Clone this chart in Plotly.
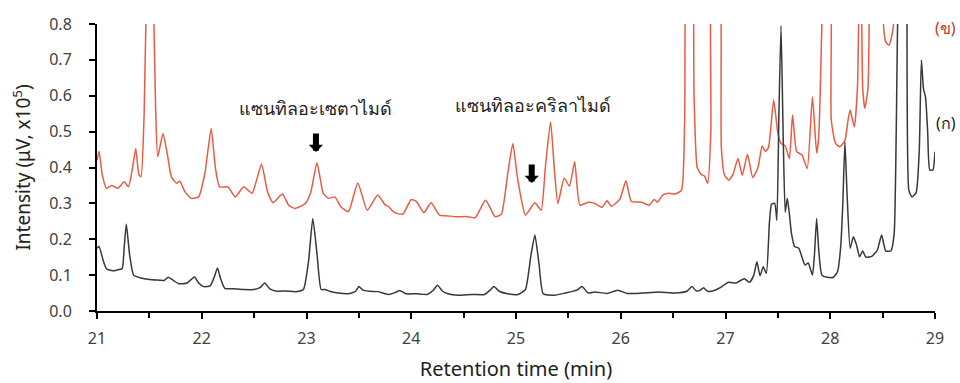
import plotly.graph_objects as go

# Trace (ก) - black
time_a = [21.00, 21.02, 21.06, 21.09, 21.15, 21.20, 21.24, 21.26, 21.28, 21.31, 21.35, 21.42, 21.50, 21.60,
          21.64, 21.68, 21.73, 21.78, 21.86, 21.93, 21.97, 22.02, 22.08, 22.12, 22.15, 22.18, 22.22, 22.30,
          22.40, 22.50, 22.56, 22.60, 22.65, 22.72, 22.80, 22.90, 22.97, 23.02, 23.06, 23.10, 23.14, 23.18,
          23.22, 23.30, 23.40, 23.47, 23.50, 23.54, 23.60, 23.68, 23.78, 23.85, 23.89, 23.95, 24.05, 24.15,
          24.21, 24.25, 24.30, 24.35, 24.45, 24.58, 24.70, 24.76, 24.79, 24.84, 24.92, 25.02, 25.09, 25.14,
          25.18, 25.22, 25.26, 25.37, 25.47, 25.58, 25.63, 25.69, 25.75, 25.87, 25.97, 26.06, 26.20, 26.36,
          26.52, 26.63, 26.68, 26.72, 26.76, 26.79, 26.83, 26.90, 26.95, 27.03, 27.10, 27.18, 27.23, 27.27,
          27.30, 27.33, 27.36, 27.39, 27.42, 27.44, 27.47, 27.49, 27.51, 27.53, 27.55, 27.57, 27.59, 27.61,
          27.63, 27.66, 27.70, 27.73, 27.76, 27.79, 27.83, 27.85, 27.87, 27.89, 27.92, 27.97, 28.03, 28.07,
          28.10, 28.12, 28.14, 28.16, 28.19, 28.22, 28.25, 28.28, 28.31, 28.34, 28.40, 28.45, 28.49, 28.53,
          28.58, 28.61, 28.63, 28.65, 28.70, 28.73, 28.75, 28.78, 28.82, 28.85, 28.87, 28.89, 28.91, 28.93,
          28.95, 28.98, 29.00]
intensity_a = [0.175, 0.180, 0.140, 0.118, 0.112, 0.115, 0.118, 0.180, 0.242, 0.160, 0.100, 0.092, 0.088, 0.086,
               0.085, 0.094, 0.085, 0.076, 0.078, 0.095, 0.078, 0.068, 0.070, 0.095, 0.120, 0.090, 0.063, 0.062,
               0.060, 0.060, 0.066, 0.078, 0.062, 0.055, 0.056, 0.054, 0.060, 0.140, 0.258, 0.160, 0.060, 0.060,
               0.055, 0.050, 0.048, 0.055, 0.068, 0.058, 0.055, 0.054, 0.046, 0.052, 0.057, 0.048, 0.048, 0.046,
               0.058, 0.072, 0.055, 0.048, 0.044, 0.046, 0.046, 0.060, 0.068, 0.055, 0.048, 0.046, 0.060, 0.150,
               0.212, 0.130, 0.048, 0.044, 0.050, 0.058, 0.068, 0.050, 0.053, 0.049, 0.058, 0.049, 0.050, 0.053,
               0.050, 0.055, 0.068, 0.056, 0.058, 0.065, 0.055, 0.058, 0.065, 0.080, 0.078, 0.090, 0.080, 0.100,
               0.137, 0.098, 0.123, 0.105, 0.250, 0.298, 0.300, 0.253, 0.550, 0.795, 0.500, 0.275, 0.314, 0.270,
               0.216, 0.180, 0.175, 0.150, 0.128, 0.134, 0.100, 0.160, 0.258, 0.170, 0.100, 0.094, 0.094, 0.110,
               0.180, 0.300, 0.472, 0.330, 0.175, 0.207, 0.185, 0.151, 0.167, 0.150, 0.153, 0.170, 0.212, 0.167,
               0.168, 0.215, 0.500, 0.900, 1.100, 0.900, 0.337, 0.318, 0.330, 0.450, 0.700, 0.620, 0.595, 0.500,
               0.393, 0.393, 0.444]

# Trace (ข) - red
time_b = [21.00, 21.02, 21.05, 21.09, 21.14, 21.20, 21.26, 21.30, 21.34, 21.37, 21.40, 21.42, 21.45, 21.47,
          21.51, 21.54, 21.56, 21.58, 21.63, 21.67, 21.71, 21.76, 21.79, 21.84, 21.90, 21.97, 22.03, 22.09,
          22.13, 22.17, 22.25, 22.32, 22.40, 22.48, 22.57, 22.63, 22.68, 22.77, 22.83, 22.89, 22.99, 23.04,
          23.10, 23.16, 23.21, 23.27, 23.33, 23.40, 23.49, 23.58, 23.68, 23.75, 23.78, 23.84, 23.92, 24.00,
          24.05, 24.12, 24.19, 24.27, 24.35, 24.42, 24.54, 24.61, 24.71, 24.80, 24.86, 24.92, 24.97, 25.01,
          25.04, 25.09, 25.18, 25.24, 25.28, 25.33, 25.37, 25.40, 25.46, 25.51, 25.56, 25.61, 25.69, 25.75,
          25.82, 25.87, 25.91, 25.99, 26.05, 26.10, 26.20, 26.27, 26.32, 26.35, 26.40, 26.46, 26.52, 26.58,
          26.61, 26.64, 26.67, 26.70, 26.73, 26.77, 26.80, 26.83, 26.86, 26.88, 26.93, 26.96, 26.99, 27.03,
          27.07, 27.12, 27.16, 27.21, 27.26, 27.31, 27.35, 27.38, 27.41, 27.46, 27.50, 27.53, 27.57, 27.61,
          27.64, 27.68, 27.73, 27.78, 27.83, 27.87, 27.89, 27.92, 27.94, 27.99, 28.01, 28.05, 28.09, 28.14,
          28.17, 28.19, 28.23, 28.26, 28.28, 28.29, 28.31, 28.33, 28.36, 28.38, 28.40, 28.49, 28.51, 28.53,
          28.56, 28.59, 28.62, 28.65, 29.00]
intensity_b = [0.420, 0.445, 0.380, 0.342, 0.350, 0.342, 0.360, 0.346, 0.400, 0.453, 0.380, 0.374, 0.550, 0.850,
               1.100, 0.850, 0.560, 0.430, 0.495, 0.440, 0.374, 0.356, 0.362, 0.332, 0.314, 0.318, 0.384, 0.509,
               0.400, 0.346, 0.346, 0.318, 0.346, 0.328, 0.409, 0.330, 0.302, 0.326, 0.295, 0.286, 0.300, 0.330,
               0.413, 0.328, 0.314, 0.318, 0.290, 0.277, 0.357, 0.281, 0.323, 0.296, 0.292, 0.274, 0.270, 0.311,
               0.305, 0.274, 0.302, 0.267, 0.265, 0.263, 0.263, 0.260, 0.309, 0.263, 0.270, 0.380, 0.467, 0.380,
               0.328, 0.267, 0.302, 0.281, 0.400, 0.527, 0.380, 0.300, 0.370, 0.348, 0.416, 0.295, 0.303, 0.300,
               0.289, 0.307, 0.292, 0.311, 0.363, 0.306, 0.303, 0.295, 0.311, 0.303, 0.323, 0.328, 0.326, 0.337,
               0.532, 1.100, 1.100, 0.600, 0.400, 0.380, 0.376, 0.356, 0.500, 1.100, 1.100, 0.458, 0.379, 0.365,
               0.380, 0.425, 0.378, 0.437, 0.372, 0.400, 0.460, 0.445, 0.455, 0.588, 0.495, 0.467, 0.460, 0.425,
               0.546, 0.444, 0.435, 0.397, 0.597, 0.440, 0.486, 0.800, 1.100, 1.100, 0.532, 0.467, 0.458, 0.475,
               0.532, 0.560, 0.513, 0.625, 1.000, 1.100, 0.620, 0.565, 0.620, 1.000, 1.100, 1.100, 0.790, 0.750,
               0.741, 0.770, 0.850, 1.100, 1.200]

x_ticks = [21, 22, 23, 24, 25, 26, 27, 28, 29]
y_ticks = [0.0, 0.1, 0.2, 0.3, 0.4, 0.5, 0.6, 0.7, 0.8]

label_acet = "แซนทิลอะเซตาไมด์"
label_acryl = "แซนทิลอะคริลาไมด์"
arrow_times = [23.09, 25.15]
arrow_tips = [0.443, 0.357]

FONT = "Tahoma, 'Noto Sans', 'DejaVu Sans', sans-serif"
RED = "#EA5B44"
BLACK = "#383838"

fig = go.Figure()
fig.add_trace(go.Scatter(x=time_b, y=intensity_b, mode="lines",
                         line=dict(color=RED, width=1.5, shape="spline", smoothing=0.5), showlegend=False))
fig.add_trace(go.Scatter(x=time_a, y=intensity_a, mode="lines",
                         line=dict(color=BLACK, width=1.5, shape="spline", smoothing=0.5), showlegend=False))

# labels
fig.add_annotation(x=23.09, y=0.565, text=label_acet, showarrow=False,
                   font=dict(family=FONT, size=18, color="#222"))
fig.add_annotation(x=25.16, y=0.574, text=label_acryl, showarrow=False,
                   font=dict(family=FONT, size=18, color="#222"))
# arrows
for ax_t, tip in zip(arrow_times, arrow_tips):
    fig.add_annotation(x=ax_t, y=tip, ax=0, ay=-20, text="", showarrow=True,
                       arrowhead=1, arrowsize=0.4, arrowwidth=6, arrowcolor="black")

fig.add_annotation(xref="paper", yref="paper", x=1.013, y=0.986, text="(ข)", showarrow=False,
                   xanchor="center", yanchor="middle", font=dict(family=FONT, size=16, color="#C0392B"))
fig.add_annotation(xref="paper", yref="paper", x=1.013, y=0.655, text="(ก)", showarrow=False,
                   xanchor="center", yanchor="middle", font=dict(family=FONT, size=16, color="#222"))

fig.update_layout(
    width=960, height=383,
    margin=dict(l=97, r=25, t=24, b=72),
    plot_bgcolor="white", paper_bgcolor="white",
    font=dict(family=FONT, size=16, color="#404040"),
)
fig.update_xaxes(range=[21, 29], tickvals=x_ticks, showgrid=False, zeroline=False, automargin=False,
                 showline=True, linecolor="black", linewidth=2,
                 ticks="outside", ticklen=6, tickwidth=2, tickcolor="black",
                 ticklabelstandoff=6,
                 minor=dict(dtick=0.5, ticks="outside", ticklen=5, tickwidth=1.5, tickcolor="black"),
                 title=dict(text="Retention time (min)", font=dict(size=20, color="#222"), standoff=14))
fig.update_yaxes(range=[0, 0.8], tickvals=y_ticks, tickformat=".1f", showgrid=False, zeroline=False,
                 automargin=False,
                 showline=True, linecolor="black", linewidth=2,
                 ticks="outside", ticklen=6, tickwidth=2, tickcolor="black",
                 ticklabelstandoff=14,
                 title=dict(text="Intensity (μV, x10<sup>5</sup>)", font=dict(size=19, color="#222"), standoff=14))

fig.write_html("out.html", config={"displayModeBar": False},
               post_script="document.body.style.margin='0';")
